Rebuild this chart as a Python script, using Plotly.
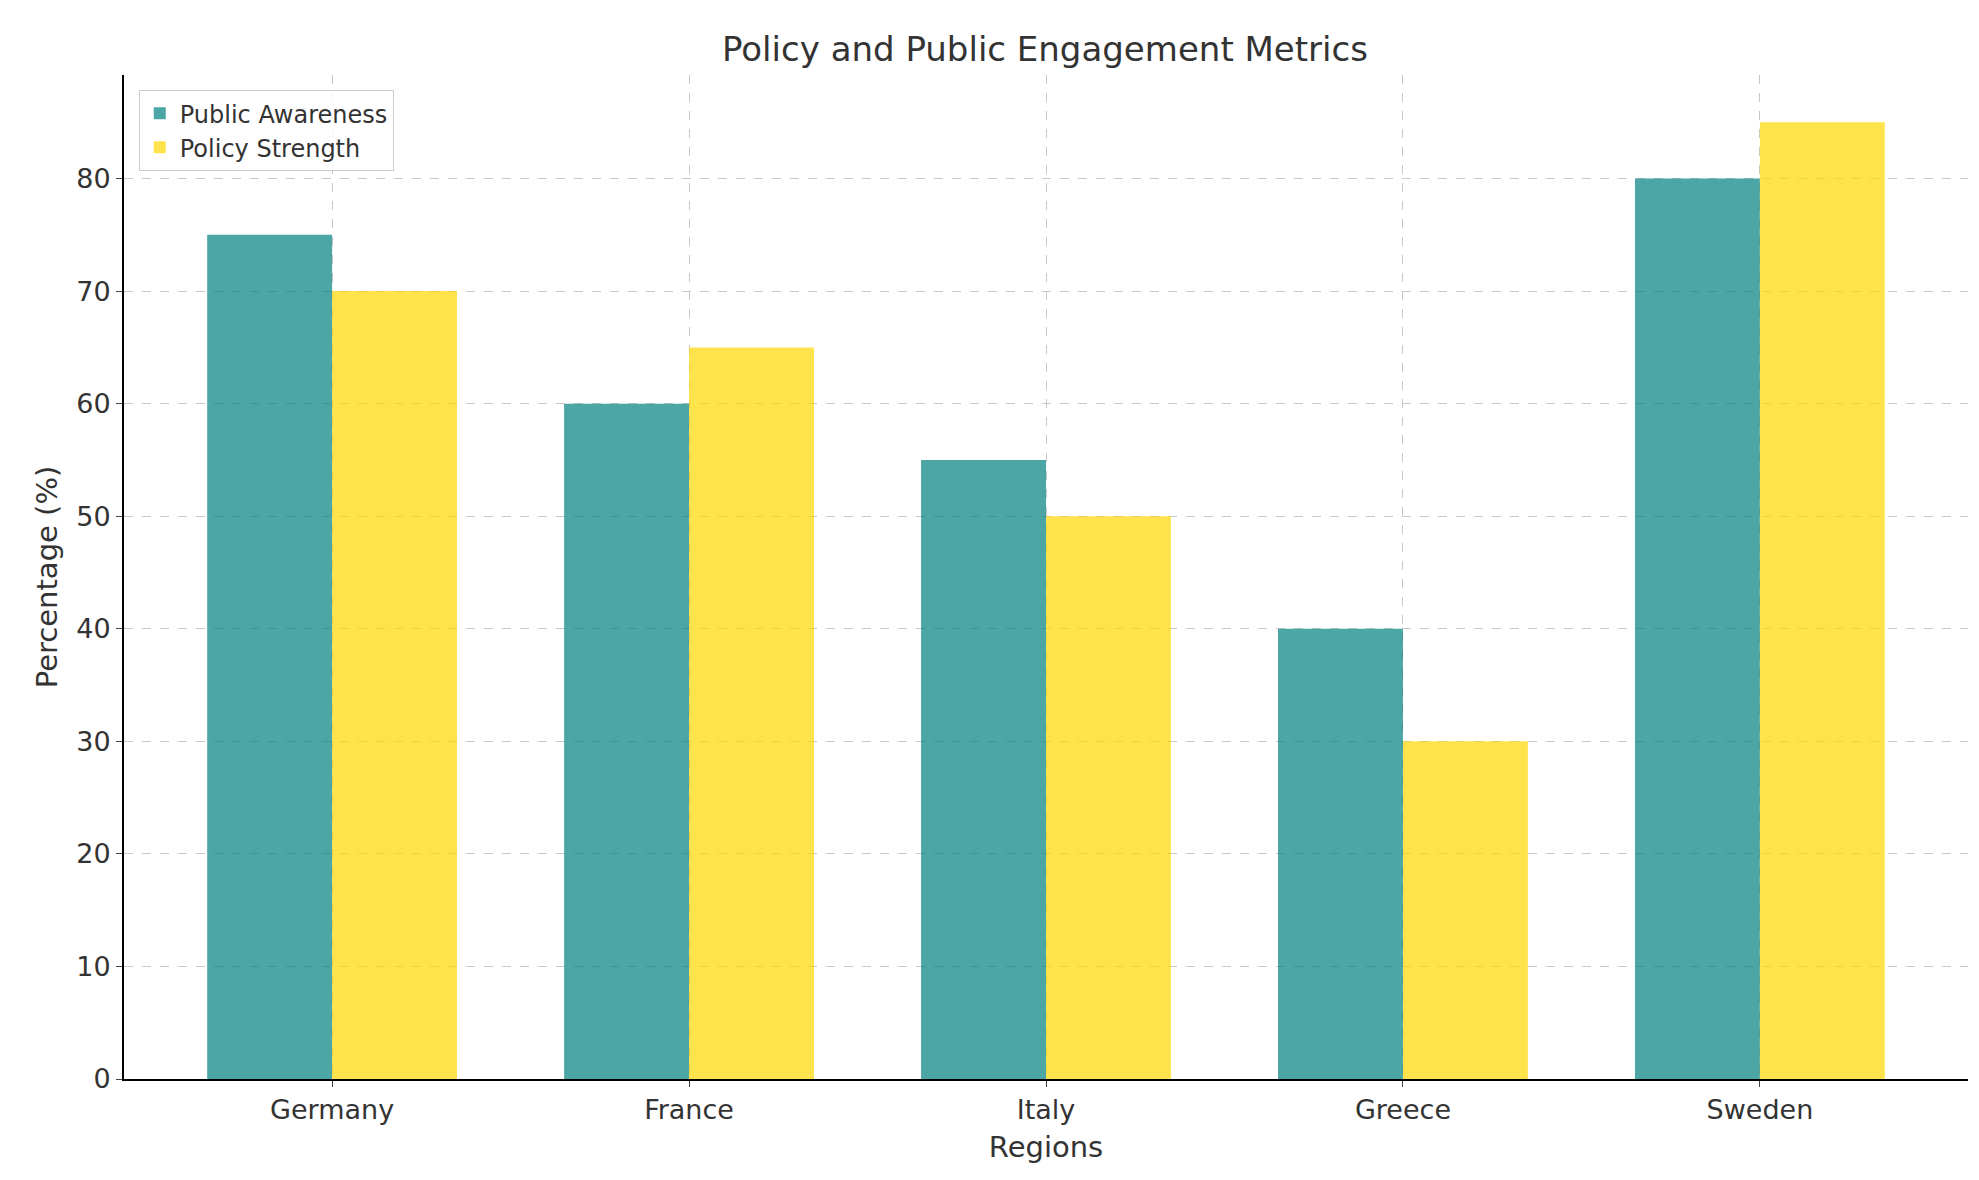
import plotly.graph_objects as go

regions = ["Germany", "France", "Italy", "Greece", "Sweden"]
public_awareness = [75, 60, 55, 40, 80]
policy_strength = [70, 65, 50, 30, 85]

xs = list(range(len(regions)))
width = 0.35

fig = go.Figure()
fig.add_trace(go.Bar(x=xs, y=public_awareness, name="Public Awareness",
                     width=width, offset=-width,
                     marker=dict(color="rgba(0,128,128,0.7)", line=dict(width=0))))
fig.add_trace(go.Bar(x=xs, y=policy_strength, name="Policy Strength",
                     width=width, offset=0,
                     marker=dict(color="rgba(255,215,0,0.7)", line=dict(width=0))))

grid = dict(showgrid=True, gridcolor="rgba(176,176,176,0.7)", griddash="dash", gridwidth=1)
fig.update_layout(
    width=1979, height=1180,
    paper_bgcolor="white", plot_bgcolor="white",
    font=dict(family="DejaVu Sans", color="#333333", size=27),
    title=dict(text="Policy and Public Engagement Metrics", x=0.524, xanchor="center",
               y=0.975, font=dict(size=34)),
    margin=dict(l=116, r=19, t=67, b=109),
    barmode="overlay",
    legend=dict(x=0.008, y=0.985, xanchor="left", yanchor="top",
                bordercolor="#cccccc", borderwidth=1, bgcolor="rgba(255,255,255,0.8)",
                font=dict(size=24)),
    xaxis=dict(tickvals=xs, ticktext=regions, range=[-0.583, 4.583],
               title=dict(text="Regions", font=dict(size=29), standoff=12),
               showline=True, linecolor="black", linewidth=2, ticks="outside",
               ticklen=6, tickfont=dict(size=27), zeroline=False, **grid),
    yaxis=dict(range=[0, 89.2], dtick=10,
               title=dict(text="Percentage (%)", font=dict(size=29), standoff=10),
               showline=True, linecolor="black", linewidth=2, ticks="outside",
               ticklen=6, tickfont=dict(size=27), zeroline=False, **grid),
)

fig.write_html("out.html")
